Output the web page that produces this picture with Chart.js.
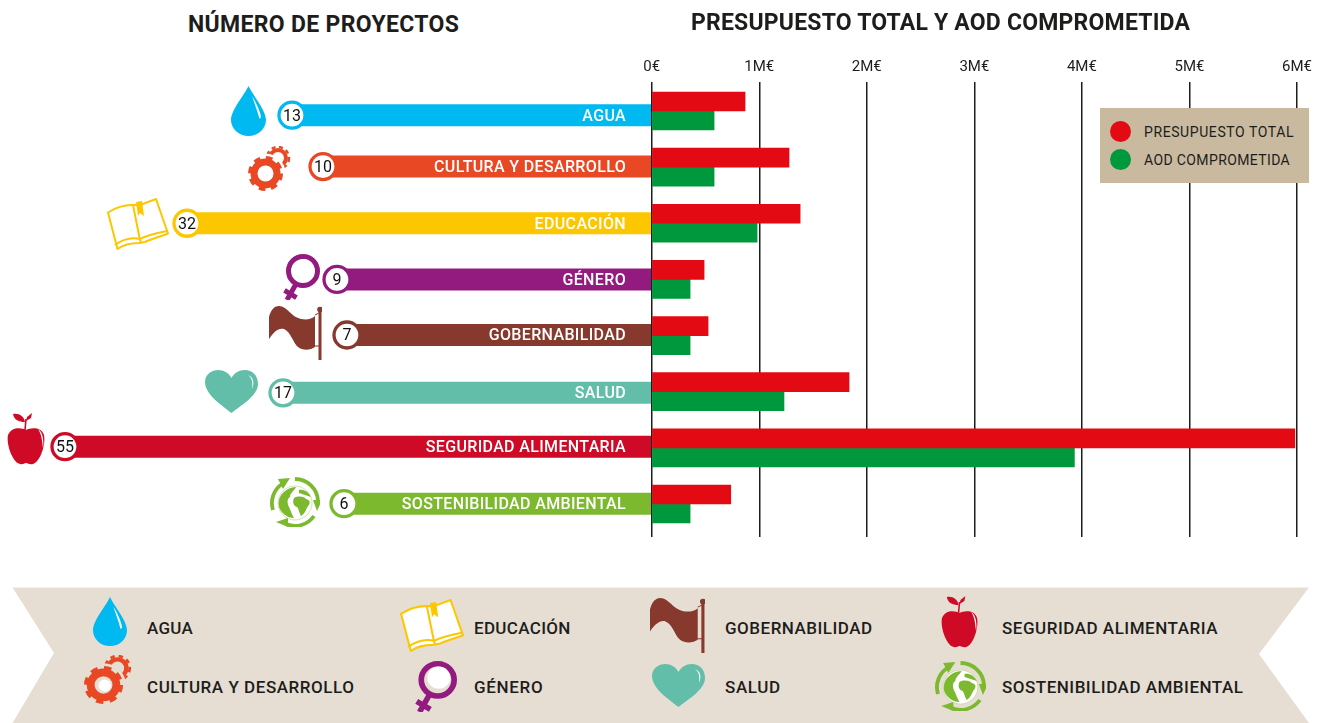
<!DOCTYPE html>
<html>
<head>
<meta charset="utf-8">
<title>Número de proyectos y presupuesto</title>
<script src="https://cdn.jsdelivr.net/npm/chart.js@4"></script>
<style>
    html, body { margin: 0; padding: 0; background: #fff; }
    body { position: relative; width: 1318px; height: 723px; overflow: hidden; font-family: Roboto, sans-serif; color: #1d1d1b; }
    canvas { position: absolute; }
    #leftChart { left: 0; top: 40px; }
    #rightChart { left: 600px; top: 40px; }
    .title { position: absolute; font-weight: 700; font-size: 23px; line-height: 28px; white-space: nowrap; }
    .ribbon-label { position: absolute; font-weight: 500; font-size: 17px; line-height: 20px; white-space: nowrap; }
    .icon { position: absolute; overflow: visible; }
    #ribbon { position: absolute; left: 0; top: 0; }
    #legendBox { position: absolute; left: 1100px; top: 108px; width: 209px; height: 75px; background: #c9b99f; }
    #legendBox i { position: absolute; left: 10px; width: 21px; height: 21px; border-radius: 50%; }
    #legendBox span { position: absolute; left: 44px; font-size: 14px; line-height: 18px; white-space: nowrap; }
</style>
</head>
<body>
<svg width="0" height="0" style="position:absolute">
    <symbol id="icon-agua" viewBox="0 0 35 50" preserveAspectRatio="none">
        <path fill="#00b9f1" d="M17.5 0C14 8 0 24 0 34A17.5 16 0 0 0 35 34C35 24 21 8 17.5 0Z"/>
        <path fill="#fff" d="M21 10C25 16 29 25 30 31C29 33 28 33 28 31C26 24 23 16 21 10Z"/>
    </symbol>
    <symbol id="icon-cultura" viewBox="0 0 43 45" preserveAspectRatio="none">
        <circle cx="30" cy="12" r="8" fill="none" stroke="#e94824" stroke-width="4"/>
        <circle cx="30" cy="12" r="11" fill="none" stroke="#e94824" stroke-width="2.5" stroke-dasharray="4 3.5"/>
        <circle cx="17.5" cy="27.5" r="20" fill="var(--shade, #fff)"/>
        <circle cx="17.5" cy="27.5" r="11.5" fill="none" stroke="#e94824" stroke-width="7"/>
        <circle cx="17.5" cy="27.5" r="15.5" fill="none" stroke="#e94824" stroke-width="4" stroke-dasharray="6.5 5.67"/>
        <circle cx="18.5" cy="28" r="5.5" fill="#fff"/>
    </symbol>
    <symbol id="icon-educacion" viewBox="0 0 62 52" preserveAspectRatio="none">
        <path fill="#fff" stroke="#fdc700" stroke-width="2" stroke-linejoin="round" d="M1 14.5L10.5 51C16 47 25 45 32 45L38 44C44 41 52 39 61 35.5L49 1L33 7L25 7C16 7 8 10 1 14.5Z"/>
        <path fill="none" stroke="#fdc700" stroke-width="2" d="M26 7L33 42M8 47C15 42 24 39 33 41C40 37 50 35 60 33M33 41L34 45"/>
        <path fill="#fdc700" d="M29 4L35 3L37 18L33 15L31 18Z"/>
    </symbol>
    <symbol id="icon-genero" viewBox="0 0 37 46" preserveAspectRatio="none">
        <circle cx="20" cy="17" r="14.5" fill="var(--shade, #fff)" stroke="#931b80" stroke-width="5"/>
        <circle cx="21" cy="15" r="10" fill="#fff"/>
        <path fill="none" stroke="#931b80" stroke-width="5" d="M13 30L4 46M1.5 36.4L13.5 43.6"/>
    </symbol>
    <symbol id="icon-gobernabilidad" viewBox="0 0 53 54" preserveAspectRatio="none">
        <path fill="#86392c" d="M0 11C2 3 6 0 10 0C18 0 22 11 32 13C38 14 43 13 46 10L46 41C42 44 34 45 29 41C24 37 22 26 15 23C9 21 3 28 0 33Z"/>
        <rect x="49.5" y="4" width="3" height="50" fill="#86392c"/>
        <path fill="none" stroke="#86392c" stroke-width="1" d="M46 9L50 7M46 40L50 40"/>
        <circle cx="51" cy="3.5" r="2.8" fill="#86392c"/>
    </symbol>
    <symbol id="icon-salud" viewBox="0 0 53 43" preserveAspectRatio="none">
        <path fill="#62bea8" d="M26.5 43C18 36 0 25 0 12C0 4 7 0 13 0C19 0 24 3 26.5 8C29 3 34 0 40 0C47 0 53 5 53 14C53 26 35 36 26.5 43Z"/>
        <path fill="#fff" d="M43 5C48 7 50 12 47 19C48 12 47 8 43 5Z"/>
    </symbol>
    <symbol id="icon-seguridad" viewBox="0 0 39 52" preserveAspectRatio="none">
        <path fill="#ce0a26" d="M19 17C14 14 4 14 1 22C-1 32 6 50 13 51C16 52 17 50 19 50C21 50 23 52 26 51C33 49 39 32 37 22C35 14 24 14 19 17Z"/>
        <path fill="none" stroke="#ce0a26" stroke-width="1.6" d="M18 17L19 6"/>
        <path fill="#ce0a26" d="M6 1C12 0 17 3 18 9C12 9 7 7 6 1ZM19 8L20 4L25 0L24 5Z"/>
        <path fill="#fff" d="M31 16C36 19 37 28 36 35C35 28 35 22 31 16Z"/>
    </symbol>
    <symbol id="icon-sostenibilidad" viewBox="0 0 50 50" preserveAspectRatio="none">
        <circle cx="25" cy="26" r="17" fill="#fff" stroke="#b9d98f" stroke-width="0.7"/>
        <path fill="#7db92f" d="M10 20C13 14 20 10 26 10C24 14 20 16 20 20C17 22 17 26 19 30C21 34 22 38 24 41C17 41 11 36 9 30C8 26 9 22 10 20ZM24 21C28 19 33 19 36 22C40 23 41 26 38 29C36 32 35 37 31 39C29 36 29 32 27 30C24 29 22 26 24 21ZM29 13C33 12 38 14 41 20C37 19 33 17 29 16Z"/>
        <path fill="none" stroke="#7db92f" stroke-width="3.8" d="M3 33A23 23 0 0 1 12 7M25 2A23 23 0 0 1 48 24M44 39A23 23 0 0 1 16 47"/>
        <path fill="#7db92f" d="M8 2L20 1L13 12ZM43 23L52 23L47 34ZM18 41L18 50L6 45Z"/>
    </symbol>
</svg>

<svg id="ribbon" width="1318" height="723">
    <polygon fill="#e6ded3" points="12.5,587.5 1309,587.5 1259,654 1309,723 12.5,723 54,653"/>
</svg>

<canvas id="leftChart" width="652" height="520"></canvas>
<canvas id="rightChart" width="718" height="520"></canvas>

<div class="title" style="left:188px;top:11px" data-w="271">NÚMERO DE PROYECTOS</div>
<div class="title" style="left:691px;top:9px" data-w="499">PRESUPUESTO TOTAL Y AOD COMPROMETIDA</div>
<div id="legendBox"></div>

<script>
// Values
const categories = ['AGUA', 'CULTURA Y DESARROLLO', 'EDUCACIÓN', 'GÉNERO', 'GOBERNABILIDAD', 'SALUD', 'SEGURIDAD ALIMENTARIA', 'SOSTENIBILIDAD AMBIENTAL'];
const projectCounts = [13, 10, 32, 9, 7, 17, 55, 6];
// the left bars are not to scale with the counts, so their drawn reach is read separately
const projectBarReach = [360, 329, 465, 315, 305, 369, 587, 308];
const projectRows = [0.075, 0.99, 2, 3, 3.99, 5.02, 5.98, 6.995];
const budgetRows = [0, 1, 2, 3, 4, 5, 6, 7];
const totalBudget = [0.868, 1.277, 1.38, 0.487, 0.524, 1.835, 5.98, 0.735];
const aodCommitted = [0.58, 0.58, 0.98, 0.357, 0.357, 1.23, 3.93, 0.357];
const budgetTicks = ['0€', '1M€', '2M€', '3M€', '4M€', '5M€', '6M€'];
const seriesNames = ['PRESUPUESTO TOTAL', 'AOD COMPROMETIDA'];
const seriesColors = ['#e30a14', '#00983d'];
const categoryColors = ['#00b9f1', '#e94824', '#fdc700', '#931b80', '#86392c', '#62bea8', '#ce0a26', '#7db92f'];

// Pixel layout for the decoration (not data)
const ROW_MIN = -0.511;
const ROW_MAX = 7.588;
const iconIds = ['agua', 'cultura', 'educacion', 'genero', 'gobernabilidad', 'salud', 'seguridad', 'sostenibilidad'];
const chartIconBoxes = [[231, 86, 35, 50], [248, 146, 43, 45], [107, 198, 62, 52], [283, 254, 37, 46], [269, 306, 53, 54], [205, 370, 53, 43], [7, 413, 39, 52], [270, 477, 50, 50]];
const ribbonIconBoxes = [[93, 597, 34, 49], [84, 655, 48, 49], [400, 599, 64, 53], [415, 661, 42, 51], [650, 598, 55, 55], [652, 664, 53, 43], [941, 596, 38, 52], [935, 661, 51, 50]];
const ribbonLabelPos = [[147, 618, 46], [147, 677, 208], [474, 618, 97], [474, 677, 69], [725, 618, 148], [725, 677, 56], [1002, 618, 216], [1002, 677, 241]];

function addIcon(id, box, shade) {
    const svg = document.createElementNS('http://www.w3.org/2000/svg', 'svg');
    svg.setAttribute('class', 'icon');
    svg.style.cssText = `left:${box[0]}px;top:${box[1]}px;width:${box[2]}px;height:${box[3]}px;`;
    if (shade) svg.style.setProperty('--shade', shade);
    const use = document.createElementNS('http://www.w3.org/2000/svg', 'use');
    use.setAttribute('href', '#icon-' + id);
    use.setAttribute('width', box[2]);
    use.setAttribute('height', box[3]);
    svg.appendChild(use);
    document.body.appendChild(svg);
}

// Stretch DOM text to the width it has in the picture
function fitWidth(el, width) {
    el.style.display = 'inline-block';
    const extra = width - el.offsetWidth;
    el.style.letterSpacing = (extra / el.textContent.length) + 'px';
}

categories.forEach((name, i) => {
    addIcon(iconIds[i], chartIconBoxes[i]);
    addIcon(iconIds[i], ribbonIconBoxes[i], '#e6ded3');
    const label = document.createElement('div');
    label.className = 'ribbon-label';
    label.textContent = name;
    label.style.left = ribbonLabelPos[i][0] + 'px';
    label.style.top = ribbonLabelPos[i][1] + 'px';
    document.body.appendChild(label);
    fitWidth(label, ribbonLabelPos[i][2]);
});

document.querySelectorAll('.title').forEach(el => fitWidth(el, Number(el.dataset.w)));

// Legend box over the grid lines
const legendBox = document.getElementById('legendBox');
seriesNames.forEach((name, i) => {
    const dot = document.createElement('i');
    dot.style.background = seriesColors[i];
    dot.style.top = (13 + i * 28) + 'px';
    legendBox.appendChild(dot);
    const text = document.createElement('span');
    text.textContent = name;
    text.style.top = (15 + i * 28) + 'px';
    legendBox.appendChild(text);
    fitWidth(text, i === 0 ? 150 : 146);
});

// Category names inside the bars and counts inside the circles
const barTextPlugin = {
    id: 'barText',
    afterDatasetsDraw(chart) {
        const ctx = chart.ctx;
        const bars = chart.getDatasetMeta(0).data;
        const dots = chart.getDatasetMeta(1).data;
        ctx.save();
        ctx.textBaseline = 'middle';
        ctx.font = '500 16px Roboto';
        ctx.letterSpacing = '0.35px';
        ctx.fillStyle = '#fff';
        ctx.textAlign = 'right';
        categories.forEach((name, i) => {
            ctx.fillText(name, 626, bars[i].y + 1.5);
        });
        ctx.letterSpacing = '0px';
        ctx.font = '400 16px Roboto';
        ctx.fillStyle = '#111';
        ctx.textAlign = 'center';
        projectCounts.forEach((count, i) => {
            ctx.fillText(String(count), dots[i].x, dots[i].y + 1.5);
        });
        ctx.restore();
    }
};

const rowScale = () => ({ type: 'linear', reverse: true, offset: false, min: ROW_MIN, max: ROW_MAX, display: false });

new Chart(document.getElementById('leftChart'), {
    type: 'bar',
    data: {
        datasets: [{
            label: 'Número de proyectos',
            data: projectBarReach.map((v, i) => ({ x: v, y: projectRows[i] })),
            backgroundColor: categoryColors,
            barThickness: 21.3,
            order: 2
        }, {
            type: 'scatter',
            label: 'Proyectos',
            data: projectBarReach.map((v, i) => ({ x: v, y: projectRows[i] })),
            pointRadius: 13,
            pointBorderWidth: 3.3,
            pointBackgroundColor: '#fff',
            pointBorderColor: categoryColors,
            order: 1
        }]
    },
    options: {
        indexAxis: 'y',
        responsive: false,
        animation: false,
        devicePixelRatio: 1,
        layout: { autoPadding: false, padding: { top: 42.3, bottom: 23, left: 0, right: 0 } },
        plugins: { legend: { display: false }, tooltip: { enabled: false } },
        scales: {
            x: { type: 'linear', reverse: true, min: 0, max: 652, display: false },
            y: rowScale()
        }
    },
    plugins: [barTextPlugin]
});

new Chart(document.getElementById('rightChart'), {
    type: 'bar',
    data: {
        datasets: [{
            label: seriesNames[0],
            data: totalBudget.map((v, i) => ({ x: v, y: budgetRows[i] })),
            backgroundColor: seriesColors[0],
            barThickness: 19
        }, {
            label: seriesNames[1],
            data: aodCommitted.map((v, i) => ({ x: v, y: budgetRows[i] })),
            backgroundColor: seriesColors[1],
            barThickness: 19
        }]
    },
    options: {
        indexAxis: 'y',
        responsive: false,
        animation: false,
        devicePixelRatio: 1,
        layout: { autoPadding: false, padding: { top: 0, bottom: 23, left: 51.7, right: 16.6 } },
        plugins: { legend: { display: false }, tooltip: { enabled: false } },
        scales: {
            x: {
                type: 'linear',
                position: 'top',
                min: 0,
                max: 6,
                afterFit(scale) { scale.height = 42.3; },
                border: { display: false },
                grid: { color: '#1d1d1b', lineWidth: 1.5, drawTicks: false },
                ticks: {
                    stepSize: 1,
                    padding: 6,
                    maxRotation: 0,
                    color: '#1d1d1b',
                    font: { family: 'Roboto', size: 15 },
                    callback: (value, index) => budgetTicks[index]
                }
            },
            y: rowScale()
        }
    }
});
</script>
</body>
</html>
